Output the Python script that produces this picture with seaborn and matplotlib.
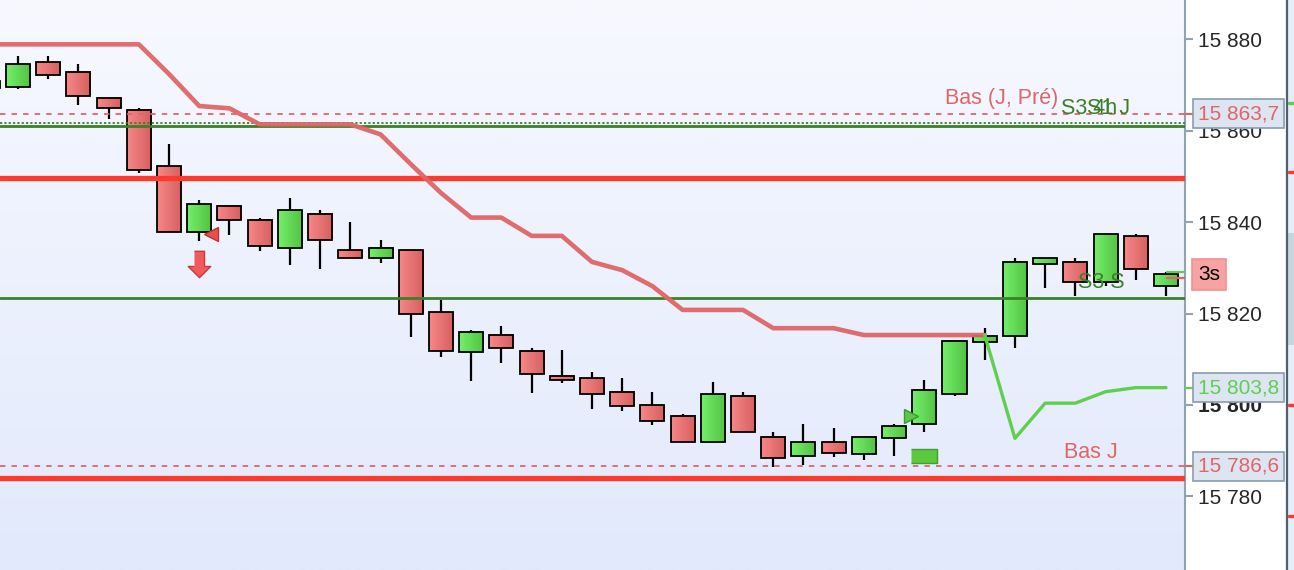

# %%
import numpy as np
import pandas as pd
import matplotlib
matplotlib.use('Agg')
import matplotlib.pyplot as plt
import matplotlib.transforms as mtransforms
from matplotlib.colors import LinearSegmentedColormap
from matplotlib.patches import Rectangle
from matplotlib.lines import Line2D
import seaborn as sns

# %%
# bougies (indice -1 = bougie coupée au bord gauche)
bar_idx = np.arange(-1, 39)
opens = [15870.8, 15869.6, 15875.0, 15872.8, 15867.1, 15864.5, 15852.2, 15837.8, 15843.5, 15840.4,
         15834.3, 15841.7, 15833.8, 15832.1, 15833.8, 15820.3, 15811.5, 15815.4, 15811.9, 15806.3,
         15805.8, 15802.8, 15800.1, 15797.5, 15791.8, 15801.9, 15793.1, 15788.8, 15791.8, 15789.2,
         15792.7, 15795.8, 15802.3, 15813.7, 15815.0, 15830.8, 15831.2, 15826.8, 15836.9, 15826.0]
highs = [15871.5, 15876.3, 15876.3, 15874.6, 15867.1, 15864.9, 15857.1, 15844.8, 15843.5, 15840.9,
         15845.3, 15842.6, 15840.0, 15836.1, 15833.8, 15823.0, 15816.4, 15817.3, 15812.4, 15812.0,
         15807.2, 15805.9, 15802.8, 15798.0, 15805.0, 15802.8, 15794.1, 15795.8, 15794.9, 15793.1,
         15795.8, 15805.4, 15814.1, 15816.8, 15832.1, 15832.1, 15832.1, 15837.3, 15837.3, 15829.0]
lows = [15869.0, 15869.2, 15871.4, 15865.7, 15862.6, 15850.8, 15837.8, 15835.9, 15837.2, 15833.7,
        15830.7, 15829.8, 15832.1, 15831.1, 15814.9, 15810.5, 15805.3, 15809.2, 15802.7, 15804.9,
        15799.2, 15798.7, 15795.7, 15791.8, 15791.8, 15794.0, 15786.5, 15786.9, 15788.6, 15787.9,
        15788.8, 15794.0, 15801.9, 15809.8, 15812.4, 15825.5, 15823.8, 15826.0, 15827.3, 15823.8]
closes = [15869.4, 15874.5, 15872.3, 15867.5, 15864.9, 15851.3, 15837.8, 15843.9, 15840.4, 15834.7,
          15842.6, 15836.0, 15832.1, 15834.3, 15819.8, 15811.9, 15815.9, 15812.4, 15806.7, 15805.4,
          15802.3, 15799.7, 15796.6, 15791.8, 15802.3, 15794.0, 15788.3, 15791.8, 15789.6, 15793.1,
          15795.3, 15803.2, 15814.1, 15815.0, 15831.2, 15832.1, 15826.8, 15837.3, 15829.7, 15828.6]

# stop suiveur rouge (indices -1..32) puis vert (32..38)
stop_red = [15878.9, 15878.9, 15878.9, 15878.9, 15878.9, 15878.9, 15872.4, 15865.4, 15864.9, 15861.4,
            15861.4, 15861.4, 15861.4, 15859.2, 15852.7, 15846.4, 15841.0, 15841.0, 15837.0, 15837.0,
            15831.3, 15829.5, 15826.0, 15820.8, 15820.8, 15820.8, 15816.8, 15816.8, 15816.8, 15815.3,
            15815.3, 15815.3, 15815.3, 15815.3]
stop_green = [15815.3, 15792.7, 15800.4, 15800.4, 15802.9, 15803.8, 15803.8]

# niveaux horizontaux
levels_red_thick = [15849.7, 15784.0]
levels_red_dashed = [15863.7, 15786.6]
levels_green = [15861.0, 15823.3]
last_green_tick = 15829.0
last_red_tick = 15827.7
timer_price = 15828.6

# signaux
sell_arrow_idx, sell_arrow_price = [6], [15830.8]
sell_tri_idx, sell_tri_price = [6], [15837.3]
buy_tri_idx, buy_tri_price = [30], [15797.7]
buy_box_idx, buy_box_price = [30], [15788.8]

# axe des prix
yticks = [15780, 15800, 15820, 15840, 15860, 15880]
ytick_labels = ['15 780', '15 800', '15 820', '15 840', '15 860', '15 880']

# %%
df = pd.DataFrame({'idx': bar_idx, 'open': opens, 'high': highs, 'low': lows, 'close': closes})
df['up'] = df['close'] >= df['open']
df['lo'] = df[['open', 'close']].min(axis=1)
df['hi'] = df[['open', 'close']].max(axis=1)

sns.set_style('white')
plt.rcParams['font.family'] = ['Liberation Sans', 'DejaVu Sans']

RED_TXT = '#e06666'
GREEN_DK = '#3b8027'
GREEN_LT = '#5fcf4f'

fig = plt.figure(figsize=(12.94, 5.70), dpi=100, facecolor='white')
ax = fig.add_axes([0, 0, 1185 / 1294, 1])

# fond dégradé
bg = LinearSegmentedColormap.from_list('bg', ['#e2e9fc', '#f7f9ff'])
ax.imshow(np.linspace(0, 1, 256).reshape(-1, 1)[::-1], cmap=bg, extent=(0, 1, 0, 1),
          transform=ax.transAxes, aspect='auto', zorder=0)

# bougies
w = 0.795
cm_up = LinearSegmentedColormap.from_list('up', ['#74ef6b', '#52c241'])
cm_dn = LinearSegmentedColormap.from_list('dn', ['#f78787', '#d65f5f'])
grad = np.linspace(0, 1, 32).reshape(1, -1)

ax.vlines(df['idx'], df['low'], df['high'], color='black', lw=1.6, zorder=2)
for _, r in df.iterrows():
    ax.imshow(grad, cmap=cm_up if r['up'] else cm_dn, aspect='auto', interpolation='bilinear',
              extent=(r['idx'] - w / 2, r['idx'] + w / 2, r['lo'], r['hi']), zorder=3)
ax.bar(df['idx'], df['hi'] - df['lo'], bottom=df['lo'], width=w, facecolor='none',
       edgecolor='black', lw=1.3, zorder=4)

# niveaux
for lv in levels_red_thick:
    ax.axhline(lv, color='#ff3a2c', lw=3.8, zorder=5)
for lv in levels_red_dashed:
    ax.axhline(lv, color=RED_TXT, lw=1.3, dashes=(3.0, 3.4), zorder=5)
ax.axhline(levels_green[0] + 0.6, color=GREEN_DK, lw=1.3, dashes=(1.2, 1.2), zorder=5)
for lv in levels_green:
    ax.axhline(lv, color=GREEN_DK, lw=2.0, zorder=5)

# stops suiveurs
sns.lineplot(x=bar_idx[:len(stop_red)], y=stop_red, ax=ax, color='#e06666', lw=3.3,
             alpha=0.95, zorder=5)
sns.lineplot(x=bar_idx[-len(stop_green):], y=stop_green, ax=ax, color=GREEN_LT, lw=2.4,
             zorder=5)
ax.hlines([last_green_tick], bar_idx[-1], bar_idx[-1] + 0.65, color=GREEN_LT, lw=1.6, zorder=5)
ax.hlines([last_red_tick], bar_idx[-1], bar_idx[-1] + 0.65, color=RED_TXT, lw=1.6, zorder=5)

# signaux
arrow_down = [(-0.38, 1), (0.38, 1), (0.38, -0.15), (0.85, -0.15), (0, -1), (-0.85, -0.15), (-0.38, -0.15)]
box_mark = [(-1, -0.5), (1, -0.5), (1, 0.5), (-1, 0.5)]
ax.plot(sell_arrow_idx, sell_arrow_price, ls='none', marker=arrow_down, ms=19,
        mfc='#f05a5a', mec='#c83a3a', mew=1, zorder=6)
ax.plot(np.array(sell_tri_idx) + 0.4, sell_tri_price, ls='none', marker='<', ms=10,
        mfc='#e85050', mec='#c03030', mew=1, zorder=6)
ax.plot(np.array(buy_tri_idx) - 0.45, buy_tri_price, ls='none', marker='>', ms=10,
        mfc='#5cc84a', mec='#3a9a2a', mew=1, zorder=6)
ax.plot(buy_box_idx, buy_box_price, ls='none', marker=box_mark, ms=19,
        mfc='#5cc83c', mec='#3f9f30', mew=1, zorder=6)

# textes des niveaux
trans = mtransforms.blended_transform_factory(ax.transAxes, ax.transData)
ax.text(1058 / 1185, 15865.8, 'Bas (J, Pré)', transform=trans, ha='right', va='baseline',
        color=RED_TXT, fontsize=15.5, zorder=7)
ax.text(1061 / 1185, 15863.6, 'S3 4h', transform=trans, ha='left', va='baseline',
        color=GREEN_DK, fontsize=15.5, zorder=7)
ax.text(1087 / 1185, 15863.6, 'S1 J', transform=trans, ha='left', va='baseline',
        color=GREEN_DK, fontsize=15.5, zorder=7)
ax.text(1078 / 1185, 15825.6, 'S3 S', transform=trans, ha='left', va='baseline',
        color=GREEN_DK, fontsize=15.5, zorder=7)
ax.text(1064 / 1185, 15788.4, 'Bas J', transform=trans, ha='left', va='baseline',
        color=RED_TXT, fontsize=15.5, zorder=7)

# étiquettes de prix sur l'axe
box_kw = dict(boxstyle='square,pad=0.24', fc='#dde5f2', ec='#8a9cab', lw=1.2)
tags = [(levels_red_dashed[0], '15 863,7', RED_TXT),
        (stop_green[-1], '15 803,8', GREEN_LT),
        (levels_red_dashed[1], '15 786,6', RED_TXT)]
for val, txt, col in tags:
    ax.plot([1.0, 1.009], [val, val], transform=trans, color=col, lw=1.5, clip_on=False, zorder=6)
    ax.text(1 + 13 / 1185, val, txt, transform=trans, ha='left', va='center', color=col,
            fontsize=15, bbox=box_kw, clip_on=False, zorder=8)
ax.text(1 + 13 / 1185, timer_price, '3s', transform=trans, ha='left', va='center', color='black',
        fontsize=15, bbox=dict(boxstyle='square,pad=0.3', fc='#f7a3a3', ec='#f29090', lw=1.2),
        clip_on=False, zorder=8)

# axes
ax.set_xlim(-0.596, 38.63)
ax.set_ylim(15763.9, 15888.6)
ax.set_xticks([])
ax.yaxis.tick_right()
ax.set_yticks(yticks)
ax.set_yticklabels(ytick_labels, fontsize=15)
for lab in ax.get_yticklabels():
    if lab.get_text() == '15 800':
        lab.set_fontweight('bold')
ax.tick_params(axis='y', direction='out', length=5.5, width=1.5, color='#8fa3b1', pad=4)
for side in ['top', 'left', 'bottom']:
    ax.spines[side].set_visible(False)
ax.spines['right'].set_color('#8fa3b1')
ax.spines['right'].set_linewidth(1.5)

# bande du panneau voisin à droite
fig.add_artist(Rectangle((1288 / 1294, 0), 6 / 1294, 1, transform=fig.transFigure,
                         fc='#e6edf9', ec='none'))
fig.add_artist(Rectangle((1288 / 1294, 1 - 345 / 570), 6 / 1294, 112 / 570,
                         transform=fig.transFigure, fc='#c6d4de', ec='none'))
for yy, col in [(172, '#ff3a2c'), (405, '#ff3a2c'), (516, '#ff3a2c'), (103, GREEN_LT)]:
    fig.add_artist(Line2D([1289 / 1294, 1], [1 - yy / 570] * 2, transform=fig.transFigure,
                          color=col, lw=2.5))
fig.add_artist(Line2D([1287 / 1294] * 2, [0, 1], transform=fig.transFigure,
                      color='#4f5f6e', lw=1.6))

fig.savefig('out.png', dpi=100)
